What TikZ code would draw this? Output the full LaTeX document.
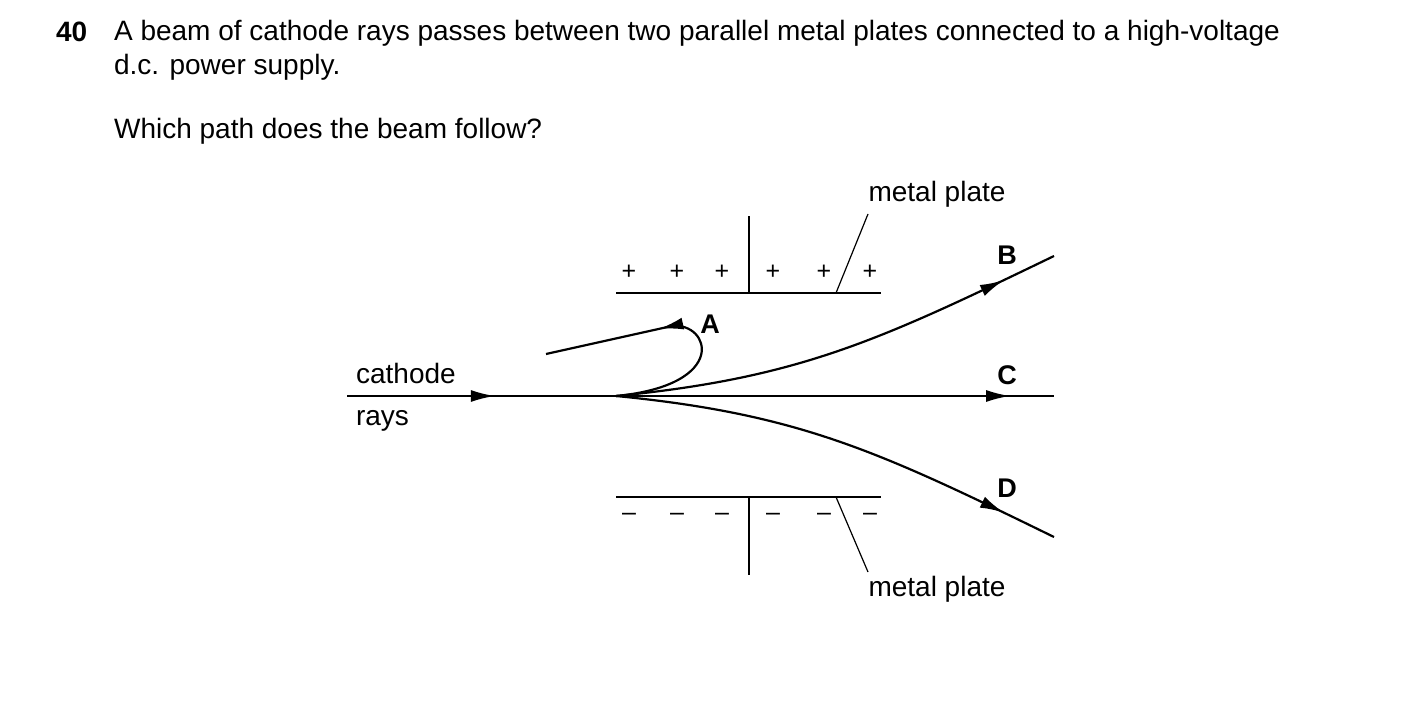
\documentclass[tikz,border=0pt]{standalone}
\usepackage{fontspec}
\setmainfont{Liberation Sans}
\usetikzlibrary{arrows.meta,decorations.markings}
\begin{document}
\begin{tikzpicture}[x=0.5pt,y=-0.5pt,line width=1.1pt,
  txt/.style={font=\fontsize{14}{17}\selectfont,inner sep=0pt},
  lbl/.style={font=\fontsize{13.5}{16}\selectfont\bfseries,inner sep=0pt},
  sgn/.style={font=\fontsize{12.5}{14}\selectfont,inner sep=0pt},
  arr/.style={postaction={decorate},decoration={markings,mark=at position #1 with {\arrow{Latex[length=12pt,width=6pt]}}}},
  thin/.style={line width=0.6pt}]
\useasboundingbox (0,0) rectangle (1403,701);
\node[txt,anchor=west,font=\fontsize{14}{17}\selectfont\bfseries] (num) at (55,32) {40};
\node[txt,anchor=west,text width=617pt,align=justify] (q1) at (113,33) {A beam of cathode rays passes between two parallel metal plates connected to a high-voltage};
\node[txt,anchor=west] (q1b) at (113,67) {d.c. power supply.};
\node[txt,anchor=west] (q2) at (113,131) {Which path does the beam follow?};
% plates
\draw (616,293) -- (881,293);
\draw (749,216) -- (749,293);
\draw (616,497) -- (881,497);
\draw (749,497) -- (749,575);
\foreach \x in {629,677,722,773,824,870}{
  \node[sgn] at (\x,272) {+};
  \node[sgn] at (\x,517) {--};
}
\node[txt] (mp1) at (937,194) {metal plate};
\node[txt] (mp2) at (937,589) {metal plate};
\draw[thin] (868,214) -- (836,293);
\draw[thin] (836,497) -- (868,572);
% beam
\coordinate (s) at (347,396);
\coordinate (o) at (616,396);
\draw[arr=0.55] (s) -- (o);
\draw[arr=0.9] (o) -- (1054,396);
\draw[arr=0.88] (o) .. controls (800,378) and (880,340) .. (1054,256);
\draw[arr=0.88] (o) .. controls (800,414) and (880,452) .. (1054,537);
\draw (o) .. controls (730,385) and (710,322) .. (672,326);
\draw[arr=0.1] (672,326) -- (546,354);
\node[txt,anchor=west] (cat) at (355,373) {cathode};
\node[txt,anchor=west] (ray) at (355,421) {rays};
\node[lbl] (A) at (710,324) {A};
\node[lbl] (B) at (1007,255) {B};
\node[lbl] (C) at (1007,375) {C};
\node[lbl] (D) at (1007,488) {D};
\end{tikzpicture}
\end{document}
